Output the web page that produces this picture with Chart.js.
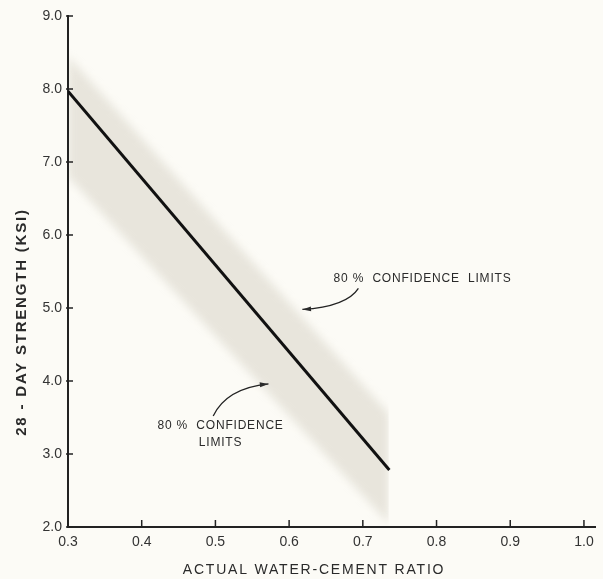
<!DOCTYPE html>
<html>
<head>
<meta charset="utf-8">
<script src="https://cdn.jsdelivr.net/npm/chart.js@4"></script>
<style>
  html, body { margin: 0; padding: 0; background: #fcfbf6; }
  #wrap { width: 603px; height: 579px; }
</style>
</head>
<body>
<div id="wrap"><canvas id="chart" width="603" height="579"></canvas></div>
<script>
// regression line
const ratio = [0.3, 0.736];
const strength = [7.97, 2.78];

// 80% confidence band
const bandRatio = [0.3, 0.735];
const upperLimit = [8.45, 3.55];
const lowerLimit = [6.8, 2.05];

// axes
const xTicks = [0.3, 0.4, 0.5, 0.6, 0.7, 0.8, 0.9, 1.0];
const yTicks = [2, 3, 4, 5, 6, 7, 8, 9];

const ink = '#222';
const labelFont = "'Liberation Sans', Arial, sans-serif";

const toPoints = (xs, ys) => xs.map((x, i) => ({ x: x, y: ys[i] }));

// soft edges for the shaded band (filler draws it in beforeDraw)
const bandBlur = {
  id: 'bandBlur',
  beforeRender(chart) {
    chart.ctx.save();
    chart.ctx.filter = 'blur(4px)';
  },
  beforeDraw(chart) {
    chart.ctx.restore();
  }
};

function arrow(ctx, x0, y0, cx, cy, x1, y1) {
  ctx.beginPath();
  ctx.moveTo(x0, y0);
  ctx.quadraticCurveTo(cx, cy, x1, y1);
  ctx.stroke();
  const a = Math.atan2(y1 - cy, x1 - cx);
  ctx.beginPath();
  ctx.moveTo(x1, y1);
  ctx.lineTo(x1 - 9 * Math.cos(a - 0.28), y1 - 9 * Math.sin(a - 0.28));
  ctx.lineTo(x1 - 9 * Math.cos(a + 0.28), y1 - 9 * Math.sin(a + 0.28));
  ctx.closePath();
  ctx.fill();
}

const extras = {
  id: 'extras',
  afterDraw(chart) {
    const ctx = chart.ctx;
    const xs = chart.scales.x, ys = chart.scales.y;
    const px = v => xs.getPixelForValue(v);
    const py = v => ys.getPixelForValue(v);
    ctx.save();
    ctx.strokeStyle = ink;
    ctx.fillStyle = ink;

    // inward tick marks
    ctx.lineWidth = 1.5;
    yTicks.forEach(t => {
      ctx.beginPath();
      ctx.moveTo(xs.left - 2, py(t));
      ctx.lineTo(xs.left + 5, py(t));
      ctx.stroke();
    });
    xTicks.forEach(t => {
      ctx.beginPath();
      ctx.moveTo(px(t), ys.bottom);
      ctx.lineTo(px(t), ys.bottom - 7);
      ctx.stroke();
    });

    // axis titles
    ctx.textAlign = 'center';
    ctx.textBaseline = 'middle';
    ctx.fillStyle = '#2a2a2a';
    ctx.letterSpacing = '1.8px';
    ctx.font = '14px ' + labelFont;
    ctx.fillText('ACTUAL WATER-CEMENT RATIO', 314, 570);
    ctx.save();
    ctx.translate(22, 322);
    ctx.rotate(-Math.PI / 2);
    ctx.letterSpacing = '1.8px';
    ctx.font = 'bold 15px ' + labelFont;
    ctx.fillText('28 - DAY STRENGTH (KSI)', 0, 0);
    ctx.restore();

    // annotations
    ctx.letterSpacing = '0.8px';
    ctx.font = '12px ' + labelFont;
    ctx.fillText('80 %  CONFIDENCE  LIMITS', px(0.781), py(5.40));
    ctx.fillText('80 %  CONFIDENCE', px(0.507), py(3.39));
    ctx.fillText('LIMITS', px(0.507), py(3.16));
    ctx.lineWidth = 1.3;
    arrow(ctx, px(0.694), py(5.27), px(0.678), py(5.02), px(0.618), py(4.98));
    arrow(ctx, px(0.497), py(3.52), px(0.515), py(3.90), px(0.572), py(3.96));
    ctx.restore();
  }
};

new Chart(document.getElementById('chart'), {
  type: 'scatter',
  data: {
    datasets: [
      {
        data: toPoints(ratio, strength),
        showLine: true,
        borderColor: '#111',
        borderWidth: 3,
        pointRadius: 0,
        fill: false
      },
      {
        data: toPoints(bandRatio, upperLimit),
        showLine: true,
        borderWidth: 0,
        borderColor: 'rgba(0,0,0,0)',
        pointRadius: 0,
        fill: false
      },
      {
        data: toPoints(bandRatio, lowerLimit),
        showLine: true,
        borderWidth: 0,
        borderColor: 'rgba(0,0,0,0)',
        pointRadius: 0,
        backgroundColor: 'rgba(200, 195, 180, 0.38)',
        fill: '-1'
      }
    ]
  },
  options: {
    responsive: false,
    animation: false,
    layout: { padding: { top: 16, right: 8, left: 0, bottom: 0 } },
    plugins: {
      legend: { display: false },
      tooltip: { enabled: false },
      filler: { drawTime: 'beforeDraw' }
    },
    scales: {
      x: {
        type: 'linear',
        min: 0.3,
        max: 1.015,
        afterBuildTicks: s => { s.ticks = xTicks.map(v => ({ value: v })); },
        afterFit: s => { s.height = 52; },
        grid: { display: false, tickLength: 6 },
        border: { display: true, color: ink, width: 2 },
        ticks: {
          padding: 1,
          color: '#333',
          font: { family: labelFont, size: 14 },
          callback: v => v.toFixed(1)
        }
      },
      y: {
        min: 2,
        max: 9,
        afterBuildTicks: s => { s.ticks = yTicks.map(v => ({ value: v })); },
        afterFit: s => { s.width = 68; },
        grid: { display: false, tickLength: 6 },
        border: { display: true, color: ink, width: 2 },
        ticks: {
          padding: 0,
          color: '#333',
          font: { family: labelFont, size: 14 },
          callback: v => v.toFixed(1)
        }
      }
    }
  },
  plugins: [bandBlur, extras]
});
</script>
</body>
</html>
